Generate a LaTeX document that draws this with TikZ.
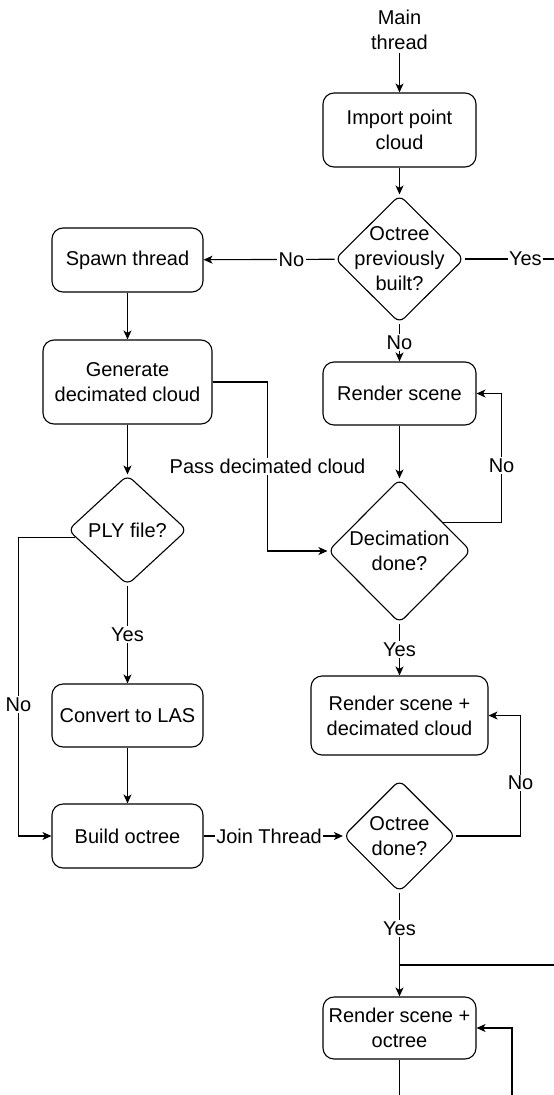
\documentclass[tikz,border=0pt]{standalone}
\usepackage{fontspec}
\setmainfont{Liberation Sans}
\usetikzlibrary{shapes.geometric,arrows.meta,calc}
\begin{document}
\begin{tikzpicture}[x=1pt,y=-1pt, font=\fontsize{20}{25}\selectfont, line width=1.1pt,
  box/.style={draw, rounded corners=11pt, align=center, inner sep=2pt},
  dia/.style={draw, diamond, rounded corners=7pt, inner sep=0pt, aspect=1},
  arr/.style={-{Stealth[length=9pt,width=8pt,inset=2.5pt]}},
  lbl/.style={fill=white, inner sep=1.5pt}]
\useasboundingbox (0,0) rectangle (554,1095);

\node[align=center, inner sep=3pt] (mt) at (399.5,30) {Main\\thread};
\node[box, minimum width=153pt, minimum height=74pt] (imp) at (399.5,130) {Import point\\cloud};
\node[dia, minimum width=129pt, minimum height=128pt,
  label={[align=center]center:{Octree\\previously\\built?}}] (d1) at (399.5,259) {};
\node[box, minimum width=151pt, minimum height=64pt] (sp) at (127.5,260) {Spawn thread};
\node[box, minimum width=169pt, minimum height=84pt] (gen) at (127.5,382) {Generate\\decimated cloud};
\node[box, minimum width=153pt, minimum height=63pt] (rs) at (399.5,393.5) {Render scene};
\node[dia, minimum width=143pt, minimum height=144pt,
  label={[align=center]center:{Decimation\\done?}}] (dec) at (399.5,551) {};
\node[dia, minimum width=119pt, minimum height=110pt,
  label={[align=center]center:{PLY file?}}] (ply) at (127.5,530) {};
\node[box, minimum width=177pt, minimum height=79pt] (rd) at (399.5,715.5) {Render scene +\\decimated cloud};
\node[box, minimum width=151pt, minimum height=63pt] (conv) at (127.5,715.5) {Convert to LAS};
\node[box, minimum width=151pt, minimum height=64pt] (bo) at (127.5,836) {Build octree};
\node[dia, minimum width=112pt, minimum height=112pt,
  label={[align=center]center:{Octree\\done?}}] (od) at (399.5,836) {};
\node[box, minimum width=153pt, minimum height=62pt] (r3) at (399.5,1028) {Render scene +\\octree};

\coordinate (e1) at (554,259);
\coordinate (e2) at (554,965);
\coordinate (e3) at (399.5,1095);
\coordinate (e4) at (512,1095);

\draw[arr] (mt) -- (imp);
\draw[arr] (imp) -- (d1);
\draw[arr] (d1) -- node[lbl,pos=0.33]{No} (sp);
\draw (d1) -- node[lbl,pos=0.68]{Yes} (e1);
\draw[arr] (sp) -- (gen);
\draw[arr] (gen.east) -- ++(55,0) |- node[lbl,pos=0.25]{Pass decimated cloud} (dec.west);
\draw[arr] (d1) -- node[lbl]{No} (rs);
\draw[arr] (rs) -- (dec);
\draw[arr] (dec.33) -| node[lbl,pos=0.72]{No} ($(rs.east)+(25,0)$) -- (rs.east);
\draw[arr] (dec) -- node[lbl]{Yes} (rd);
\draw[arr] (od.east) -| node[lbl,pos=0.72]{No} ($(rd.east)+(32,0)$) -- (rd.east);
\draw[arr] (od) -- node[lbl,pos=0.35]{Yes} (r3);
\draw (e2) -- (e2 -| r3.north);
\draw (r3) -- (e3);
\draw[arr] (e4) |- (r3.east);
\draw[arr] (gen) -- (ply);
\draw[arr] (ply) -- node[lbl]{Yes} (conv);
\draw[arr] (ply.188) -- ++(-57,0) |- node[lbl,pos=0.28]{No} (bo.west);
\draw[arr] (conv) -- (bo);
\draw[arr] (bo) -- node[lbl,pos=0.47]{Join Thread} (od);
\end{tikzpicture}
\end{document}
